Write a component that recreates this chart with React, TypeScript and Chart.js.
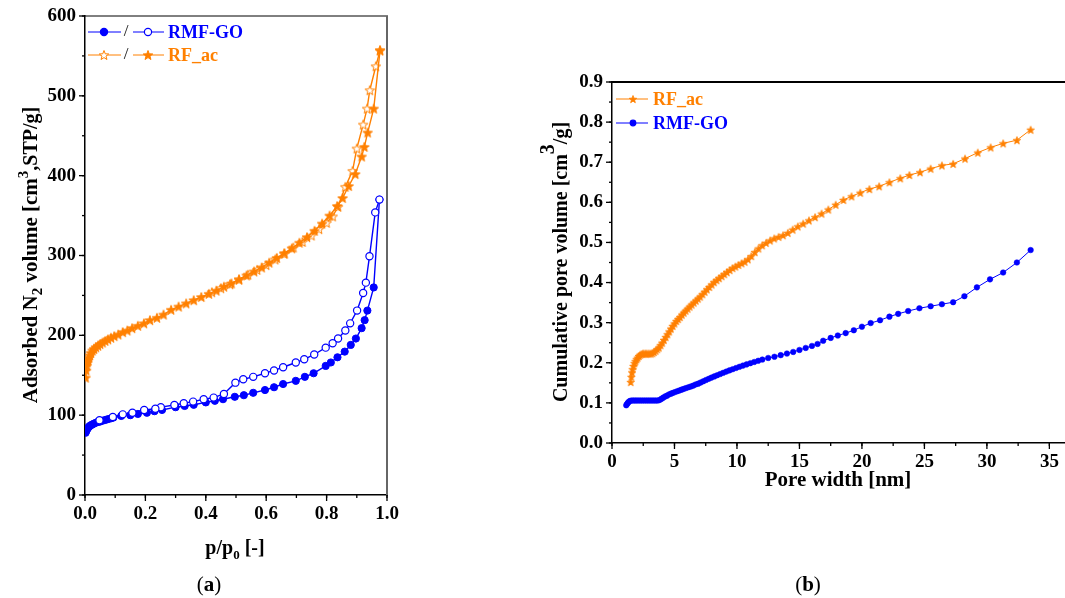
import React, { useEffect, useRef } from 'react';
import { Chart, registerables } from 'chart.js';
Chart.register(...registerables);

const BLUE = '#0000ff';
const ORANGE = '#ff8000';
const FONT = "'Liberation Serif', 'Times New Roman', serif";

// ---------- (a) N2 isotherms ----------
const rmfAdsP = [0.002, 0.004, 0.006, 0.008, 0.010, 0.013, 0.016, 0.020, 0.025, 0.030, 0.036, 0.043, 0.050, 0.058, 0.067, 0.076, 0.086, 0.094, 0.12, 0.15, 0.175, 0.205, 0.23, 0.255, 0.30, 0.33, 0.36, 0.40, 0.43, 0.457, 0.496, 0.526, 0.557, 0.596, 0.626, 0.656, 0.698, 0.728, 0.757, 0.797, 0.814, 0.836, 0.86, 0.88, 0.897, 0.916, 0.926, 0.935, 0.956, 0.975];
const rmfAdsV = [78, 80, 82, 83, 84, 85.5, 86.5, 87.5, 88.5, 89.5, 90.5, 91.5, 92, 93, 94, 95, 96, 97, 99, 100, 101.5, 103, 105, 106.5, 110, 111.5, 113, 116, 118, 120, 123, 125, 128, 131.5, 135, 139, 143, 148, 152.5, 161.7, 166, 172.5, 179.6, 188, 196, 209, 219, 231, 260, 370];
const rmfDesP = [0.975, 0.961, 0.942, 0.930, 0.921, 0.901, 0.878, 0.862, 0.838, 0.82, 0.797, 0.759, 0.726, 0.698, 0.656, 0.626, 0.596, 0.557, 0.524, 0.498, 0.46, 0.426, 0.393, 0.358, 0.327, 0.296, 0.251, 0.233, 0.196, 0.157, 0.125, 0.092, 0.048];
const rmfDesV = [370, 354, 299, 266, 253, 231, 215, 206, 196, 190, 184.6, 176, 170, 166, 160, 156, 152.5, 148, 145, 140.7, 126.6, 122, 120, 117, 115, 112.8, 110, 108, 106.5, 103, 101, 97.7, 93.6];
const rfAdsP = [0.002, 0.004, 0.006, 0.008, 0.010, 0.013, 0.016, 0.020, 0.025, 0.030, 0.036, 0.043, 0.050, 0.058, 0.067, 0.076, 0.086, 0.097, 0.110, 0.125, 0.140, 0.156, 0.175, 0.195, 0.215, 0.238, 0.26, 0.285, 0.31, 0.335, 0.36, 0.385, 0.41, 0.435, 0.46, 0.485, 0.51, 0.535, 0.56, 0.585, 0.61, 0.635, 0.66, 0.685, 0.71, 0.735, 0.76, 0.785, 0.81, 0.835, 0.853, 0.873, 0.895, 0.916, 0.925, 0.936, 0.956, 0.977];
const rfAdsV = [147, 156, 162, 166, 169, 172, 175, 178, 181, 183, 185, 187, 189, 191, 193, 195, 197, 199, 201, 204, 206, 209, 212, 215, 219, 222, 226, 232, 236, 240, 244, 248, 252, 256, 261, 265, 270, 275, 280, 285, 291, 297, 303, 309, 316, 323, 331, 340, 350, 362, 372, 387, 402, 424, 436, 454, 484, 557];
const rfDesP = [0.977, 0.963, 0.943, 0.934, 0.921, 0.900, 0.886, 0.862, 0.838, 0.82, 0.80, 0.775, 0.75, 0.72, 0.69, 0.66, 0.63, 0.60, 0.57, 0.54, 0.51, 0.48, 0.45, 0.42];
const rfDesV = [557, 537, 507, 484, 464, 434, 406, 386, 361, 349, 341, 333, 325, 317, 310, 302, 295, 288, 282, 276, 270, 264, 259, 254];

// ---------- (b) cumulative pore volume ----------
const rfW = [1.50, 1.55, 1.60, 1.65, 1.72, 1.80, 1.88, 1.97, 2.06, 2.16, 2.26, 2.37, 2.48, 2.6, 2.72, 2.85, 2.98, 3.11, 3.24, 3.37, 3.5, 3.63, 3.76, 3.89, 4.02, 4.16, 4.3, 4.44, 4.58, 4.72, 4.86, 5.0, 5.15, 5.3, 5.45, 5.6, 5.75, 5.9, 6.06, 6.22, 6.38, 6.55, 6.72, 6.89, 7.06, 7.24, 7.42, 7.6, 7.79, 7.98, 8.17, 8.37, 8.57, 8.78, 8.99, 9.2, 9.42, 9.65, 9.88, 10.12, 10.37, 10.62, 10.88, 11.15, 11.43, 11.72, 12.02, 12.33, 12.65, 12.98, 13.33, 13.69, 14.07, 14.46, 14.87, 15.3, 15.76, 16.25, 16.77, 17.31, 17.9, 18.52, 19.17, 19.87, 20.6, 21.38, 22.2, 23.07, 23.8, 24.65, 25.5, 26.4, 27.3, 28.25, 29.27, 30.3, 31.3, 32.4, 33.5];
const rfCum = [0.152, 0.165, 0.176, 0.184, 0.192, 0.199, 0.204, 0.209, 0.213, 0.217, 0.220, 0.222, 0.223, 0.223, 0.223, 0.223, 0.223, 0.223, 0.224, 0.227, 0.230, 0.234, 0.238, 0.244, 0.250, 0.257, 0.264, 0.271, 0.278, 0.285, 0.292, 0.298, 0.304, 0.309, 0.314, 0.320, 0.325, 0.330, 0.335, 0.340, 0.345, 0.350, 0.355, 0.360, 0.365, 0.371, 0.377, 0.383, 0.389, 0.395, 0.401, 0.406, 0.411, 0.416, 0.421, 0.426, 0.431, 0.436, 0.440, 0.444, 0.448, 0.452, 0.458, 0.466, 0.476, 0.485, 0.493, 0.499, 0.505, 0.510, 0.514, 0.518, 0.524, 0.532, 0.540, 0.547, 0.555, 0.563, 0.572, 0.582, 0.594, 0.606, 0.615, 0.624, 0.633, 0.640, 0.650, 0.660, 0.668, 0.675, 0.684, 0.692, 0.696, 0.709, 0.724, 0.737, 0.747, 0.755, 0.781];
const rmfW = [1.14, 1.2, 1.27, 1.35, 1.45, 1.58, 1.72, 1.86, 2.0, 2.15, 2.3, 2.45, 2.6, 2.75, 2.9, 3.05, 3.2, 3.35, 3.5, 3.65, 3.8, 3.95, 4.1, 4.25, 4.4, 4.56, 4.72, 4.88, 5.05, 5.22, 5.39, 5.57, 5.75, 5.93, 6.12, 6.31, 6.5, 6.7, 6.9, 7.1, 7.31, 7.52, 7.74, 7.96, 8.19, 8.42, 8.66, 8.9, 9.15, 9.4, 9.66, 9.93, 10.2, 10.48, 10.77, 11.07, 11.38, 11.7, 12.03, 12.5, 13.0, 13.5, 14.0, 14.5, 15.0, 15.5, 16.0, 16.45, 16.9, 17.5, 18.07, 18.7, 19.35, 20.0, 20.7, 21.45, 22.2, 22.9, 23.7, 24.6, 25.5, 26.4, 27.3, 28.2, 29.2, 30.25, 31.3, 32.4, 33.5];
const rmfCum = [0.094, 0.097, 0.100, 0.103, 0.105, 0.106, 0.106, 0.106, 0.106, 0.106, 0.106, 0.106, 0.106, 0.106, 0.106, 0.106, 0.106, 0.106, 0.106, 0.106, 0.107, 0.110, 0.113, 0.116, 0.118, 0.121, 0.123, 0.125, 0.127, 0.129, 0.131, 0.133, 0.135, 0.137, 0.139, 0.141, 0.143, 0.146, 0.148, 0.151, 0.154, 0.157, 0.160, 0.163, 0.166, 0.169, 0.172, 0.175, 0.178, 0.181, 0.184, 0.187, 0.190, 0.193, 0.196, 0.199, 0.202, 0.205, 0.208, 0.212, 0.215, 0.219, 0.223, 0.227, 0.232, 0.237, 0.242, 0.247, 0.255, 0.262, 0.268, 0.274, 0.281, 0.290, 0.299, 0.306, 0.315, 0.322, 0.329, 0.336, 0.341, 0.346, 0.351, 0.366, 0.388, 0.408, 0.425, 0.450, 0.481];

const toXY = (xs: number[], ys: number[]) => xs.map((x, i) => ({ x, y: ys[i] }));

function makeStar(r: number, filled: boolean, color: string, lw: number) {
  const size = Math.ceil(r * 2 + lw * 2 + 2);
  const c = document.createElement('canvas');
  c.width = size; c.height = size;
  const ctx = c.getContext('2d')!;
  const cx = size / 2, cy = size / 2 + 0.5;
  ctx.beginPath();
  for (let i = 0; i < 10; i++) {
    const a = -Math.PI / 2 + (i * Math.PI) / 5;
    const rr = i % 2 === 0 ? r : r * 0.42;
    ctx.lineTo(cx + rr * Math.cos(a), cy + rr * Math.sin(a));
  }
  ctx.closePath();
  ctx.fillStyle = filled ? color : '#fff';
  ctx.fill();
  ctx.lineWidth = lw;
  ctx.strokeStyle = color;
  ctx.lineJoin = 'miter';
  ctx.stroke();
  return c;
}

type Seg = { t: string; size?: number; dy?: number; bold?: boolean; color?: string };
function drawRich(ctx: CanvasRenderingContext2D, segs: Seg[], x: number, y: number, rotate: boolean, size: number) {
  ctx.save();
  ctx.translate(x, y);
  if (rotate) ctx.rotate(-Math.PI / 2);
  const fontOf = (s: Seg) => `${s.bold === false ? '' : 'bold '}${s.size || size}px ${FONT}`;
  let total = 0;
  const ws = segs.map((s) => { ctx.font = fontOf(s); const w = ctx.measureText(s.t).width; total += w; return w; });
  let cx = -total / 2;
  ctx.textAlign = 'left';
  ctx.textBaseline = 'alphabetic';
  segs.forEach((s, i) => {
    ctx.font = fontOf(s);
    ctx.fillStyle = s.color || '#000';
    ctx.fillText(s.t, cx, s.dy || 0);
    cx += ws[i];
  });
  ctx.restore();
}

const decorPlugin = {
  id: 'decor',
  afterDraw(chart: any, _args: any, opts: any) {
    const ctx: CanvasRenderingContext2D = chart.ctx;
    const xs = chart.scales.x, ys = chart.scales.y;
    const ca = chart.chartArea;
    ctx.save();
    if (opts.frameTop) {
      ctx.strokeStyle = opts.frameTop.color; ctx.lineWidth = opts.frameTop.width;
      ctx.beginPath(); ctx.moveTo(ca.left, ca.top); ctx.lineTo(ca.right + 1, ca.top); ctx.stroke();
    }
    if (opts.frameRight) {
      ctx.strokeStyle = opts.frameRight.color; ctx.lineWidth = opts.frameRight.width;
      ctx.beginPath(); ctx.moveTo(ca.right, ca.top); ctx.lineTo(ca.right, ca.bottom); ctx.stroke();
    }
    ctx.strokeStyle = '#000'; ctx.lineWidth = 1.3;
    const tickSet = (scale: any, step: number, len: number, horiz: boolean) => {
      const n = Math.floor((scale.max - scale.min) / step + 1e-6);
      for (let i = 0; i <= n; i++) {
        const px = scale.getPixelForValue(scale.min + i * step);
        ctx.beginPath();
        if (horiz) { ctx.moveTo(px, ca.bottom); ctx.lineTo(px, ca.bottom + len); }
        else { ctx.moveTo(ca.left, px); ctx.lineTo(ca.left - len, px); }
        ctx.stroke();
      }
    };
    tickSet(xs, opts.xMajor, 6, true); tickSet(xs, opts.xMajor / 2, 3, true);
    tickSet(ys, opts.yMajor, 6, false); tickSet(ys, opts.yMajor / 2, 3, false);
    drawRich(ctx, opts.xTitle.segs, opts.xTitle.x, opts.xTitle.y, false, opts.xTitle.size);
    drawRich(ctx, opts.yTitle.segs, opts.yTitle.x, opts.yTitle.y, true, opts.yTitle.size);
    for (const row of opts.legend) {
      ctx.lineWidth = 1;
      for (const m of row.marks) {
        ctx.strokeStyle = row.color;
        ctx.beginPath(); ctx.moveTo(m.x0, row.y); ctx.lineTo(m.x1, row.y); ctx.stroke();
        if (m.img) {
          ctx.drawImage(m.img, m.cx - m.img.width / 2, row.y - m.img.height / 2);
        } else {
          ctx.beginPath(); ctx.arc(m.cx, row.y, m.r, 0, Math.PI * 2);
          ctx.fillStyle = m.fill; ctx.fill();
          ctx.lineWidth = 1.2; ctx.strokeStyle = row.color; ctx.stroke();
          ctx.lineWidth = 1;
        }
      }
      if (row.slashX) {
        ctx.font = `17px ${FONT}`; ctx.fillStyle = '#111'; ctx.textAlign = 'center'; ctx.textBaseline = 'middle';
        ctx.fillText('/', row.slashX, row.y);
      }
      ctx.font = `bold 18px ${FONT}`; ctx.fillStyle = row.color; ctx.textAlign = 'left'; ctx.textBaseline = 'middle';
      ctx.fillText(row.text, row.textX, row.y + 1);
    }
    ctx.restore();
  },
};

const tickFont = { family: FONT, size: 19, weight: 'bold' as const };

function makeScales(xMin: number, xMax: number, xStep: number, xFmt: (v: number) => string, yMin: number, yMax: number, yStep: number, yFmt: (v: number) => string, yWidth: number, xHeight: number) {
  return {
    x: {
      type: 'linear', min: xMin, max: xMax,
      ticks: { stepSize: xStep, includeBounds: false, autoSkip: false, maxRotation: 0, font: tickFont, color: '#000', padding: 8, callback: (v: number) => xFmt(v) },
      grid: { display: true, drawOnChartArea: false, drawTicks: false },
      border: { display: true, color: '#000', width: 1.5 },
      afterFit: (s: any) => { s.height = xHeight; s.paddingLeft = 0; s.paddingRight = 0; },
    },
    y: {
      type: 'linear', min: yMin, max: yMax,
      ticks: { stepSize: yStep, includeBounds: false, autoSkip: false, font: tickFont, color: '#000', padding: 9, callback: (v: number) => yFmt(v) },
      grid: { display: true, drawOnChartArea: false, drawTicks: false },
      border: { display: true, color: '#000', width: 1.5 },
      afterFit: (s: any) => { s.width = yWidth; s.paddingTop = 0; s.paddingBottom = 0; },
    },
  };
}

function ChartA() {
  const ref = useRef<HTMLCanvasElement>(null);
  useEffect(() => {
    const starF = makeStar(5, true, ORANGE, 1);
    const starO = makeStar(5, false, ORANGE, 1);
    const chart = new Chart(ref.current!, {
      type: 'scatter',
      data: {
        datasets: [
          { data: toXY(rmfAdsP, rmfAdsV), showLine: true, borderColor: BLUE, borderWidth: 1.4, pointStyle: 'circle', pointRadius: 3.6, pointBackgroundColor: BLUE, pointBorderColor: BLUE, pointBorderWidth: 1, order: 2 },
          { data: toXY(rmfDesP, rmfDesV), showLine: true, borderColor: BLUE, borderWidth: 1.4, pointStyle: 'circle', pointRadius: 3.6, pointBackgroundColor: '#fff', pointBorderColor: BLUE, pointBorderWidth: 1.2, order: 1 },
          { data: toXY(rfDesP, rfDesV), showLine: true, borderColor: ORANGE, borderWidth: 1.4, pointStyle: starO as any, pointRadius: 4, order: 4 },
          { data: toXY(rfAdsP, rfAdsV), showLine: true, borderColor: ORANGE, borderWidth: 1.4, pointStyle: starF as any, pointRadius: 4, order: 3 },
        ],
      },
      options: {
        responsive: false, animation: false, events: [],
        layout: { padding: { left: 0, top: 16, right: 143, bottom: 0 } },
        scales: makeScales(0, 1, 0.2, (v) => v.toFixed(1), 0, 600, 100, (v) => String(Math.round(v)), 85, 103) as any,
        plugins: {
          legend: { display: false }, tooltip: { enabled: false },
          decor: {
            frameTop: { color: '#000', width: 1 },
            frameRight: { color: '#666', width: 2 },
            xMajor: 0.2, yMajor: 100,
            xTitle: { x: 235, y: 554, size: 20, segs: [{ t: 'p/p' }, { t: '0', size: 13, dy: 5 }, { t: ' [-]' }] },
            yTitle: { x: 37, y: 255, size: 21, segs: [{ t: 'Adsorbed N' }, { t: '2', size: 15, dy: 5 }, { t: ' volume [cm' }, { t: '3', size: 15, dy: -9 }, { t: ',STP/g]', size: 20 }] },
            legend: [
              { y: 32, color: BLUE, text: 'RMF-GO', textX: 168, slashX: 126, marks: [{ x0: 88, x1: 121, cx: 104, r: 3.6, fill: BLUE }, { x0: 133, x1: 164, cx: 148, r: 3.6, fill: '#fff' }] },
              { y: 55, color: ORANGE, text: 'RF_ac', textX: 168, slashX: 126, marks: [{ x0: 88, x1: 121, cx: 104, img: starO }, { x0: 133, x1: 164, cx: 148, img: starF }] },
            ],
          },
        } as any,
      },
      plugins: [decorPlugin],
    } as any);
    return () => chart.destroy();
  }, []);
  return <canvas ref={ref} width={530} height={598} style={{ display: 'block' }} />;
}

function ChartB() {
  const ref = useRef<HTMLCanvasElement>(null);
  useEffect(() => {
    const star = makeStar(4, true, ORANGE, 0.8);
    const chart = new Chart(ref.current!, {
      type: 'scatter',
      data: {
        datasets: [
          { data: toXY(rfW, rfCum), showLine: true, borderColor: ORANGE, borderWidth: 1, pointStyle: star as any, pointRadius: 4 },
          { data: toXY(rmfW, rmfCum), showLine: true, borderColor: BLUE, borderWidth: 1, pointStyle: 'circle', pointRadius: 2.8, pointBackgroundColor: BLUE, pointBorderColor: BLUE, pointBorderWidth: 0.5 },
        ],
      },
      options: {
        responsive: false, animation: false, events: [],
        layout: { padding: { left: 0, top: 82, right: 25, bottom: 0 } },
        scales: makeScales(0, 36.25, 5, (v) => String(Math.round(v)), 0, 0.9, 0.1, (v) => v.toFixed(1), 82, 155) as any,
        plugins: {
          legend: { display: false }, tooltip: { enabled: false },
          decor: {
            frameTop: { color: '#000', width: 2 },
            xMajor: 5, yMajor: 0.1,
            xTitle: { x: 308, y: 486, size: 21, segs: [{ t: 'Pore width [nm]' }] },
            yTitle: { x: 37, y: 262, size: 20, segs: [{ t: 'Cumulative pore volume [cm' }, { t: '3', size: 20, dy: -13 }, { t: '/g]' }] },
            legend: [
              { y: 99, color: ORANGE, text: 'RF_ac', textX: 123, marks: [{ x0: 86, x1: 118, cx: 103, img: star }] },
              { y: 123, color: BLUE, text: 'RMF-GO', textX: 123, marks: [{ x0: 86, x1: 118, cx: 103, r: 2.8, fill: BLUE }] },
            ],
          },
        } as any,
      },
      plugins: [decorPlugin],
    } as any);
    return () => chart.destroy();
  }, []);
  return <canvas ref={ref} width={560} height={598} style={{ display: 'block' }} />;
}

export default function App() {
  const lbl: React.CSSProperties = { position: 'absolute', top: 572, fontFamily: FONT, fontSize: 21, color: '#000', transform: 'translateX(-50%)', whiteSpace: 'nowrap' };
  return (
    <div style={{ position: 'fixed', left: 0, top: 0, width: 1065, height: 598, background: '#fff', overflow: 'hidden' }}>
      <div style={{ position: 'absolute', left: 0, top: 0 }}><ChartA /></div>
      <div style={{ position: 'absolute', left: 530, top: 0 }}><ChartB /></div>
      <div style={{ ...lbl, left: 209 }}>(<b>a</b>)</div>
      <div style={{ ...lbl, left: 808 }}>(<b>b</b>)</div>
    </div>
  );
}
